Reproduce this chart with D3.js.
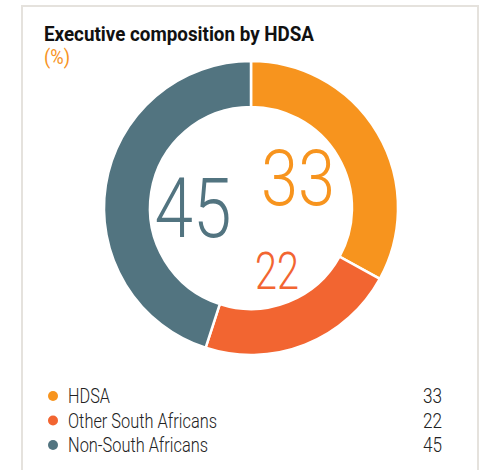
<!DOCTYPE html>
<html>
<head>
<meta charset="utf-8">
<script src="https://cdn.jsdelivr.net/npm/d3@7"></script>
<style>
  html, body { margin: 0; padding: 0; background: #fff; }
  svg { display: block; }
  text { font-family: Roboto, "Liberation Sans", sans-serif; }
</style>
</head>
<body>
<svg id="chart" width="479" height="470"></svg>
<script>
// Executive composition by HDSA (%)
const categories = ["HDSA", "Other South Africans", "Non-South Africans"];
const values = [33, 22, 45];
const colors = ["#f7941e", "#f26531", "#527480"];

const svg = d3.select("#chart");

// card frame
svg.append("path")
  .attr("d", "M22,470 V6 H478 V470")
  .attr("fill", "none")
  .attr("stroke", "#e5e2dd")
  .attr("stroke-width", 2);

// title
svg.append("text")
  .attr("x", 44).attr("y", 41)
  .attr("font-size", 20).attr("font-weight", 700)
  .attr("fill", "#111")
  .attr("textLength", 270).attr("lengthAdjust", "spacingAndGlyphs")
  .text("Executive composition by HDSA");

svg.append("text")
  .attr("x", 44).attr("y", 64)
  .attr("font-size", 20).attr("font-weight", 400)
  .attr("fill", "#f7941e")
  .attr("textLength", 26).attr("lengthAdjust", "spacingAndGlyphs")
  .text("(%)");

// donut
const cx = 251, cy = 208;
const pie = d3.pie().sort(null).value(d => d)(values);
const arc = d3.arc().innerRadius(101).outerRadius(147);

const g = svg.append("g").attr("transform", `translate(${cx},${cy})`);
g.selectAll("path.slice")
  .data(pie)
  .join("path")
  .attr("class", "slice")
  .attr("d", arc)
  .attr("fill", (d, i) => colors[i])
  .attr("stroke", "#fff")
  .attr("stroke-width", 2.5);

// value labels inside the ring
const labelSpec = [
  { x: 298, y: 205, size: 78, w: 74 },
  { x: 277, y: 289, size: 51, w: 44 },
  { x: 193, y: 237, size: 84, w: 77 }
];
svg.selectAll("text.val")
  .data(values)
  .join("text")
  .attr("class", "val")
  .attr("x", (d, i) => labelSpec[i].x - labelSpec[i].w / 2)
  .attr("y", (d, i) => labelSpec[i].y)
  .attr("font-size", (d, i) => labelSpec[i].size)
  .attr("font-weight", 300)
  .attr("fill", (d, i) => colors[i])
  .attr("textLength", (d, i) => labelSpec[i].w)
  .attr("lengthAdjust", "spacingAndGlyphs")
  .text(d => d);

// legend
const legendY = d3.scalePoint().domain(categories).range([396, 445]);
const legendW = [42, 149, 140];
const leg = svg.selectAll("g.leg")
  .data(categories)
  .join("g")
  .attr("class", "leg")
  .attr("transform", d => `translate(0,${legendY(d)})`);

leg.append("circle")
  .attr("cx", 53).attr("cy", 0).attr("r", 5)
  .attr("fill", (d, i) => colors[i]);

leg.append("text")
  .attr("x", 68).attr("y", 7)
  .attr("font-size", 20).attr("font-weight", 300)
  .attr("fill", "#222")
  .attr("textLength", (d, i) => legendW[i]).attr("lengthAdjust", "spacingAndGlyphs")
  .text(d => d);

leg.append("text")
  .attr("x", 442).attr("y", 7)
  .attr("text-anchor", "end")
  .attr("font-size", 20).attr("font-weight", 300)
  .attr("fill", "#222")
  .attr("textLength", 19).attr("lengthAdjust", "spacingAndGlyphs")
  .text((d, i) => values[i]);
</script>
</body>
</html>
